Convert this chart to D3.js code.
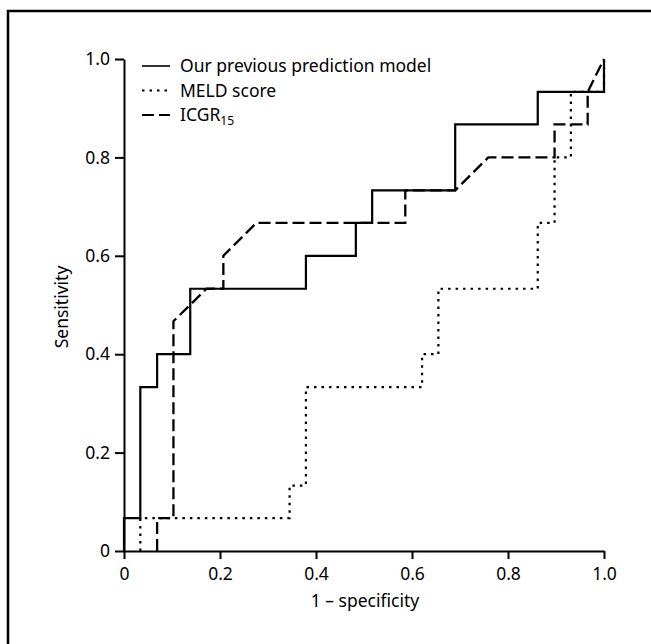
<!DOCTYPE html>
<html lang="en">
<head>
    <meta charset="UTF-8">
    <title>ROC curves</title>
    <script src="https://d3js.org/d3.v7.min.js"></script>
    <style>
        body {
            margin: 0;
            background: #fff;
            font-family: "Noto Sans", Arial, sans-serif;
        }
        svg text {
            fill: #000;
        }
    </style>
</head>
<body>
    <div id="chart"></div>
    <script>
        // ROC vertices (1 - specificity, sensitivity)
        const prevFpr = [0, 0, 0.034, 0.034, 0.069, 0.069, 0.138, 0.138, 0.379, 0.379, 0.483, 0.483, 0.517, 0.517, 0.690, 0.690, 0.862, 0.862, 1.0, 1.0];
        const prevTpr = [0, 0.067, 0.067, 0.333, 0.333, 0.4, 0.4, 0.533, 0.533, 0.6, 0.6, 0.667, 0.667, 0.733, 0.733, 0.867, 0.867, 0.933, 0.933, 1.0];

        const meldFpr = [0.034, 0.034, 0.345, 0.345, 0.379, 0.379, 0.621, 0.621, 0.655, 0.655, 0.862, 0.862, 0.897, 0.897, 0.931, 0.931, 1.0, 1.0];
        const meldTpr = [0, 0.067, 0.067, 0.133, 0.133, 0.333, 0.333, 0.4, 0.4, 0.533, 0.533, 0.667, 0.667, 0.8, 0.8, 0.933, 0.933, 1.0];

        const icgFpr = [0.069, 0.069, 0.103, 0.103, 0.172, 0.207, 0.207, 0.276, 0.586, 0.586, 0.690, 0.759, 0.897, 0.897, 0.966, 0.966, 1.0];
        const icgTpr = [0, 0.067, 0.067, 0.467, 0.533, 0.533, 0.6, 0.667, 0.667, 0.733, 0.733, 0.8, 0.8, 0.867, 0.867, 0.933, 1.0];

        const tickValues = [0, 0.2, 0.4, 0.6, 0.8, 1.0];
        const tickLabels = ["0", "0.2", "0.4", "0.6", "0.8", "1.0"];
        const legendLabels = ["Our previous prediction model", "MELD score", "ICGR"];

        const width = 651;
        const height = 644;
        const fontSize = 17.5;

        const svg = d3.select('#chart')
            .append('svg')
            .attr('width', width)
            .attr('height', height);

        svg.append('rect')
            .attr('width', width)
            .attr('height', height)
            .attr('fill', '#fff');

        // scanned page frame (left and top edges)
        svg.append('path')
            .attr('d', 'M8,646 L8,11 L653,11')
            .attr('fill', 'none')
            .attr('stroke', '#000')
            .attr('stroke-width', 2.5);

        const x = d3.scaleLinear().domain([0, 1]).range([124, 604]);
        const y = d3.scaleLinear().domain([0, 1]).range([551, 59]);

        const fmt = d => tickLabels[tickValues.indexOf(d)];

        const xAxis = svg.append('g')
            .attr('transform', `translate(0,${y(0)})`)
            .call(d3.axisBottom(x).tickValues(tickValues).tickFormat(fmt).tickSize(8).tickSizeOuter(0).tickPadding(9));

        const yAxis = svg.append('g')
            .attr('transform', `translate(${x(0)},0)`)
            .call(d3.axisLeft(y).tickValues(tickValues).tickFormat(fmt).tickSize(9).tickSizeOuter(0).tickPadding(5));

        [xAxis, yAxis].forEach(g => {
            g.selectAll('path, line').attr('stroke', '#000').attr('stroke-width', 2);
            g.selectAll('text')
                .attr('font-family', '"Noto Sans", Arial, sans-serif')
                .attr('font-size', fontSize);
        });

        const line = d3.line()
            .x(d => x(d[0]))
            .y(d => y(d[1]));

        const series = [
            { fpr: meldFpr, tpr: meldTpr, dash: '2.5,5', width: 2.2 },
            { fpr: icgFpr, tpr: icgTpr, dash: '12,5', width: 2.3 },
            { fpr: prevFpr, tpr: prevTpr, dash: null, width: 2.2 }
        ];

        series.forEach(s => {
            svg.append('path')
                .datum(d3.zip(s.fpr, s.tpr))
                .attr('d', line)
                .attr('fill', 'none')
                .attr('stroke', '#000')
                .attr('stroke-width', s.width)
                .attr('stroke-dasharray', s.dash);
        });

        // legend
        const legendStyles = [
            { dash: null, width: 1.6 },
            { dash: '2.5,5', width: 2 },
            { dash: '12,5', width: 2 }
        ];
        const legend = svg.append('g')
            .attr('font-size', fontSize);

        legendLabels.forEach((label, i) => {
            const ly = 66 + i * 24.5;
            legend.append('line')
                .attr('x1', 142).attr('x2', 170)
                .attr('y1', ly).attr('y2', ly)
                .attr('stroke', '#000')
                .attr('stroke-width', legendStyles[i].width)
                .attr('stroke-dasharray', legendStyles[i].dash);
            const t = legend.append('text')
                .attr('x', 180)
                .attr('y', ly + 6)
                .text(label);
            if (i === 2) {
                t.append('tspan')
                    .attr('font-size', 12)
                    .attr('dy', 4)
                    .text('15');
            }
        });

        // axis titles
        svg.append('text')
            .attr('x', 365)
            .attr('y', 607)
            .attr('text-anchor', 'middle')
            .attr('font-size', fontSize)
            .text('1 \u2013 specificity');

        svg.append('text')
            .attr('transform', 'translate(68,307) rotate(-90)')
            .attr('text-anchor', 'middle')
            .attr('font-size', fontSize)
            .text('Sensitivity');
    </script>
</body>
</html>
